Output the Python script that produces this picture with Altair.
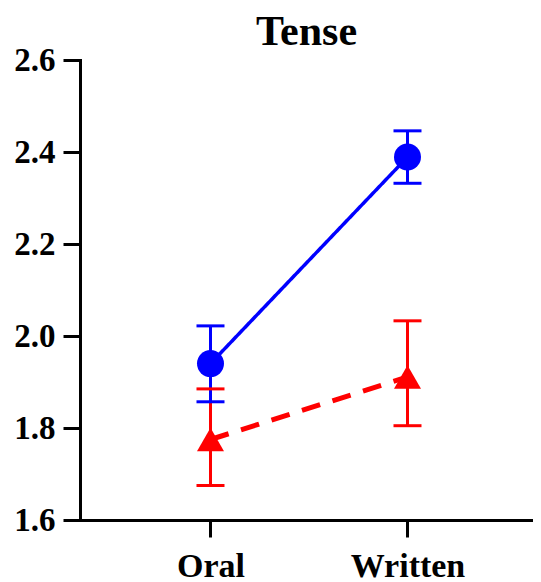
import altair as alt
import pandas as pd

modes = ["Oral", "Written"]
blue_mean = [1.940, 2.389]
blue_low = [1.857, 2.332]
blue_high = [2.022, 2.446]
red_mean = [1.775, 1.911]
red_low = [1.675, 1.805]
red_high = [1.885, 2.033]
y_ticks = [1.6, 1.8, 2.0, 2.2, 2.4, 2.6]

rows = []
for i, m in enumerate(modes):
    rows.append({"idx": i, "mode": m, "series": "Red", "mean": red_mean[i], "low": red_low[i], "high": red_high[i]})
for i, m in enumerate(modes):
    rows.append({"idx": i, "mode": m, "series": "Blue", "mean": blue_mean[i], "low": blue_low[i], "high": blue_high[i]})
df = pd.DataFrame(rows)

FONT = "Liberation Serif"
color = alt.Color("series:N", scale=alt.Scale(domain=["Blue", "Red"], range=["#0000FF", "#FF0000"]), legend=None)
label_expr = "datum.value == 0 ? '%s' : '%s'" % (modes[0], modes[1])
x = alt.X("idx:Q",
          scale=alt.Scale(domain=[-0.6624, 1.6371], nice=False, zero=False),
          axis=alt.Axis(title=None, values=[0, 1], labelExpr=label_expr, labelAngle=0,
                        labelFontSize=34, labelFont=FONT, grid=False,
                        labelFontWeight="bold", labelColor="black", tickSize=17, tickWidth=3,
                        tickColor="black", domainColor="black", domainWidth=3, labelPadding=12,
                        domainCap="square"))
yscale = alt.Scale(domain=[1.6, 2.6], nice=False, zero=False)
yaxis = alt.Axis(title=None, values=y_ticks, format=".1f", labelFontSize=33, labelFont=FONT,
                 labelFontWeight="bold", labelColor="black", tickSize=17, tickWidth=3,
                 tickColor="black", domainColor="black", domainWidth=3, labelPadding=8,
                 grid=False, domainCap="square")

base = alt.Chart(df)

line = base.mark_line().encode(
    x=x,
    y=alt.Y("mean:Q", scale=yscale, axis=yaxis),
    color=color,
    strokeWidth=alt.StrokeWidth("series:N", scale=alt.Scale(domain=["Blue", "Red"], range=[3.5, 5]), legend=None),
    strokeDash=alt.StrokeDash("series:N", scale=alt.Scale(domain=["Blue", "Red"], range=[[1, 0], [19, 13]]), legend=None),
)
rule = base.mark_rule(strokeWidth=3).encode(
    x="idx:Q", y=alt.Y("low:Q", scale=yscale), y2="high:Q", color=color
)
tick_low = base.mark_tick(size=28, thickness=3, opacity=1, orient="horizontal").encode(
    x="idx:Q", y=alt.Y("low:Q", scale=yscale), color=color
)
tick_high = base.mark_tick(size=28, thickness=3, opacity=1, orient="horizontal").encode(
    x="idx:Q", y=alt.Y("high:Q", scale=yscale), color=color
)
points = base.mark_point(filled=True, size=729, opacity=1).encode(
    x="idx:Q", y=alt.Y("mean:Q", scale=yscale), color=color,
    shape=alt.Shape("series:N", scale=alt.Scale(domain=["Blue", "Red"], range=["circle", "triangle-up"]), legend=None),
)

chart = alt.layer(line, rule, tick_low, tick_high, points).properties(
    width=453, height=460,
    title=alt.TitleParams("Tense", fontSize=42, font=FONT, fontWeight="bold", color="black",
                          offset=0, dy=10),
    autosize=alt.AutoSizeParams(type="none"),
    padding={"left": 72, "top": 52, "right": 0, "bottom": 62},
).configure_view(stroke=None)

chart.save("out.html", embed_options={"renderer": "svg", "actions": False})
